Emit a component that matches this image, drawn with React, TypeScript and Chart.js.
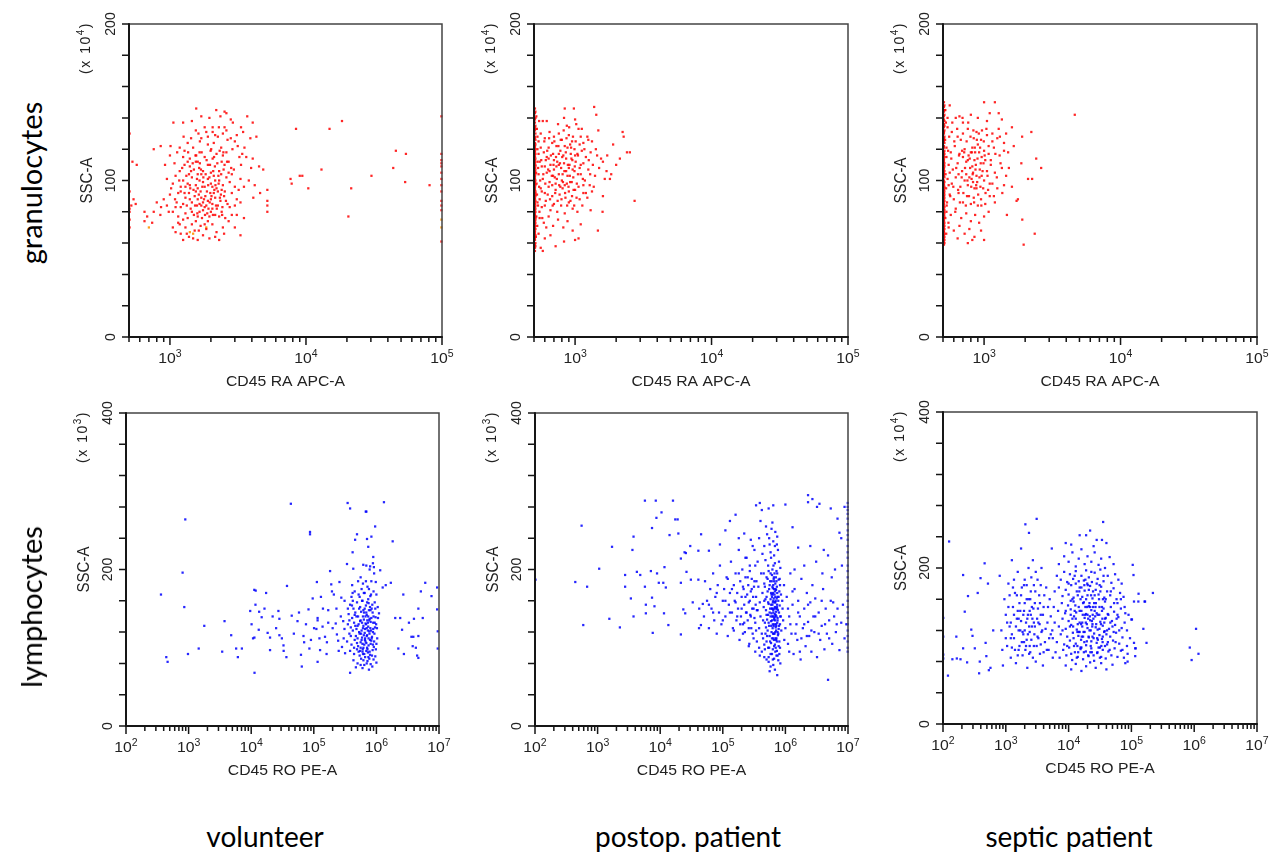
import React, { useEffect, useRef } from 'react';
import { Chart, registerables } from 'chart.js';

Chart.register(...registerables);

type Pt = [number, number];

// ---------- axis / tick definitions ----------
const topXTickExponents = [3, 4, 5];
const bottomXTickExponents = [2, 3, 4, 5, 6, 7];
const topYTickLabels = [0, 100, 200];
const bottomYTickLabels = [0, 200, 400];
const columnLabels = ['volunteer', 'postop. patient', 'septic patient'];
const rowLabels = ['granulocytes', 'lymphocytes'];

// ---------- data (CD45 intensity, SSC-A) ----------
const granVolunteer: Pt[] = [
  [1560,146],[2190,145],[2520,144],[1700,141],[3700,141],[4060,137],[1060,137],[1250,137],[2900,137],[2800,139],
  [1800,134],[2060,134],[2290,134],[2520,134],[3330,134],[4320,128],[1850,131],[2060,131],[2800,127],[1430,127],[1660,125],[1900,128],[2250,128],[3900,127],[2450,130],[1550,132],[2650,126],[3100,129],
  [760,120],[855,122],[1010,122],[1180,121],[1280,119],[1480,121],[1990,119],[2380,121],[2880,120],[3150,122],[3530,121],[1000,116],[1250,115],[1400,114],[1560,116],[1800,115],[2060,114],[2450,116],[3240,115],[3640,115],[4060,114],[1650,118],[2200,117],[1900,123],[2600,118],[1350,124],[2100,124],
  [920,110],[1080,111],[1280,110],[1400,109],[1660,111],[1900,110],[2140,109],[2520,110],[2820,108],[3330,110],[3950,108],[4520,109],[4850,107],[570,110],[1180,106],[1500,107],[1750,106],[2000,105],[2300,106],[2700,105],[1600,112],[2400,112],[1350,112],
  [1100,103],[1250,100],[1350,98],[1450,102],[1550,97],[1650,100],[1700,104],[1800,96],[1900,101],[2000,98],[2100,103],[2200,95],[2300,100],[2450,97],[2600,102],[2750,99],[3000,96],[3300,101],[1200,96],[1050,98],[950,101],[1600,95],[2050,96],[2850,104],[3500,96],[5200,94],[1380,104],[1750,99],[2150,100],
  [900,88],[1000,91],[1120,86],[1200,93],[1300,89],[1380,92],[1450,86],[1520,90],[1600,88],[1680,93],[1750,86],[1820,90],[1900,87],[1980,92],[2050,85],[2150,89],[2250,93],[2350,87],[2500,90],[2650,85],[2850,92],[3100,88],[3300,86],[1250,85],[1550,93],[1700,89],[2000,88],[1400,88],[1650,85],[2400,94],[800,86],
  [760,80],[850,78],[950,84],[1050,80],[1150,77],[1200,83],[1300,79],[1350,76],[1420,82],[1500,78],[1580,84],[1650,80],[1720,76],[1800,83],[1880,79],[1950,77],[2050,82],[2150,78],[2250,84],[2400,80],[2550,76],[2750,83],[3100,78],[3500,76],[5200,80],[1250,75],[1600,77],[2000,80],[1450,80],[1750,81],[1100,83],[2300,77],[1700,84],[860,83],[650,80],[680,77],
  [1050,70],[1150,73],[1200,66],[1300,70],[1380,64],[1450,72],[1520,68],[1600,62],[1680,71],[1750,65],[1850,69],[1950,63],[2050,72],[2200,67],[2300,62],[2450,70],[2700,74],[3000,70],[3300,65],[1250,62],[1550,74],[1900,74],[650,74],[740,73],[1100,67],
  [8450,133],[14900,133],[18400,138],[13000,107],[9000,103],[9400,103],[7700,101],[7850,98],[10400,95],[21500,95],[20500,77],[30300,103],[43800,108],[45800,119],[54300,117],[53600,99],[81000,97],[5200,84],[5200,87],[4200,97],
  [99000,141],[99000,117],[99000,113],[99000,111],[99000,109],[99000,105],[99000,101],[99000,97],[99000,93],[99000,87],[99000,84],[99000,81],[99000,61],
  [505,130],[505,82],[505,80],[505,75],[505,93],[505,70],[520,84],[540,88],[560,85],[530,112],
];
const granVolunteerCore: Pt[] = [
  [1230,108],[1320,103],[1410,95],[1470,111],[1530,84],[1580,101],[1630,91],[1690,107],[1730,96],[1780,88],[1830,104],[1870,93],[1920,82],[1970,110],[2020,90],[2080,106],[2120,94],[2180,84],[2230,111],[2280,98],[2330,89],[2380,104],[2430,83],[2480,107],[2530,93],[2580,87],[2630,112],[1280,92],[1330,84],[1360,118],[1430,106],[1490,94],[1540,116],[1590,79],[1640,108],[1710,118],[1760,102],[1810,78],[1860,113],[1910,97],[1960,86],[2010,120],[2070,78],[2110,115],[2160,97],[2210,82],[2270,103],[2320,119],[2370,91],[2420,78],[2470,118],[1150,92],[1170,100],[1090,88],[1020,95],[980,80],[1130,118],[1260,128],[1620,130],[2150,129],[2700,112],[2950,107],[3200,94],[3400,117],[3800,100],[4100,89],[4600,92],[2600,132],[3000,125],[3450,131],[1450,138],[1950,140],[2350,141],[2600,143],[1700,127],[1180,72],[1330,66],[1480,63],[1630,68],[1800,72],[2150,64],[2500,66],[2850,78],[3000,84],[1400,97],[1600,104],[1850,84],[2100,92],[1300,96],[1550,112],[1950,102],
];
const granVolunteerOrange: Pt[] = [[700,70],[1400,67],[1480,66],[1850,70],[99000,75],[99000,70]];

const granPostop: Pt[] = [
  [508,146],[508,143],[508,139],[508,137],[508,134],[508,132],[508,128],[508,127],[508,124],[508,122],[508,121],[508,118],[508,116],[508,115],[508,112],[508,111],[508,108],[508,106],[508,105],[508,103],[508,101],[508,99],[508,98],[508,95],[508,94],[508,91],[508,89],[508,88],[508,85],[508,83],[508,81],[508,78],[508,77],[508,74],[508,72],[508,70],[508,68],[508,66],[508,63],[508,62],[508,59],[508,57],[508,55],[508,119],[508,113],[508,102],[508,96],[508,86],[508,79],[508,71],[508,67],
  [512,144],[512,140],[512,135],[512,133],[512,130],[512,126],[512,123],[512,120],[512,117],[512,114],[512,110],[512,109],[512,107],[512,104],[512,100],[512,97],[512,93],[512,92],[512,90],[512,87],[512,84],[512,82],[512,80],[512,76],[512,75],[512,73],[512,69],[512,65],[512,64],[512,60],[512,58],
  [545,138],[580,138],[620,138],[750,136],[870,135],[1020,136],[1060,133],[830,140],[1000,139],[840,146],[980,146],[1380,147],[1430,142],
  [560,130],[600,127],[650,131],[700,128],[760,130],[800,126],[900,129],[950,125],[1100,128],[1150,124],[1250,126],[680,124],[540,125],
  [530,120],[590,118],[640,121],[690,117],[730,122],[780,119],[820,116],[880,121],[930,117],[990,120],[1050,116],[1120,119],[1200,115],[1300,118],[1450,116],[1720,116],[2130,114],[2400,118],[2520,118],[2230,131],[2270,128],
  [550,112],[570,109],[610,113],[660,110],[700,107],[740,112],[790,108],[830,111],[860,106],[910,110],[960,107],[1010,112],[1080,108],[1150,111],[1250,107],[1350,110],[1500,108],[1600,112],
  [540,104],[580,101],[620,105],[650,99],[690,103],[720,98],[760,104],[800,100],[840,97],[880,103],[920,99],[970,102],[1030,98],[1100,104],[1180,100],[1280,97],[1400,103],[1650,101],[1800,101],[1840,104],
  [560,95],[600,92],[640,96],[680,90],[720,94],[770,91],[810,95],[850,89],[900,93],[950,90],[1000,94],[1080,88],[1150,92],[1230,89],[1330,93],[1600,90],[2730,87],
  [530,86],[570,83],[610,87],[660,81],[700,85],[740,80],[790,84],[840,79],[900,86],[960,82],[1040,80],[1130,84],[1590,80],[1300,81],
  [550,76],[590,73],[640,77],[690,71],[750,75],[820,70],[880,74],[960,68],[1100,72],[1470,68],
  [540,66],[600,63],[660,65],[720,58],[830,61],[1000,62],[1060,63],[560,57],[580,55],
  [620,115],[700,113],[760,117],[810,104],[860,114],[900,108],[940,114],[990,106],[650,106],[730,109],[780,96],[870,98],[710,102],[840,122],[920,123],[760,110],[680,97],[1000,116],[1050,104],[1150,97],[600,109],[640,114],
];
const granPostopCore: Pt[] = [
  [520,141],[525,133],[530,112],[518,105],[522,98],[526,91],[535,84],[520,77],[528,71],[515,64],[540,117],[545,96],[550,88],[530,128],[536,108],[548,80],[555,100],[560,121],[565,113],[570,93],[575,76],[585,104],[595,125],[600,84],[605,98],[615,70],[625,119],[630,91],[635,107],[645,127],[655,88],[665,116],[675,103],[685,84],[695,110],[705,125],[715,92],[725,115],[735,101],[745,87],[755,122],[765,97],[775,111],[785,126],[795,88],[805,115],[815,99],[825,132],[835,106],[845,92],[855,118],[865,127],[875,84],[885,110],[895,96],[905,134],[915,103],[925,87],[935,121],[945,99],[955,113],[965,128],[975,94],[985,84],[995,109],[1010,125],[1025,89],[1040,117],[1060,96],[1080,123],[1100,110],[1120,133],[1140,101],[1170,120],[1200,92],[1230,128],[1260,113],[1290,104],[1330,125],[1370,96],[1420,120],[1480,132],[1550,114],[1700,106],[1900,123],[2000,110],
];

const granSeptic: Pt[] = [
  [508,150],[508,147],[508,144],[508,141],[508,139],[508,136],[508,134],[508,131],[508,130],[508,127],[508,125],[508,122],[508,121],[508,118],[508,116],[508,114],[508,112],[508,110],[508,108],[508,107],[508,104],[508,103],[508,100],[508,98],[508,97],[508,94],[508,92],[508,90],[508,88],[508,86],[508,84],[508,82],[508,80],[508,78],[508,76],[508,74],[508,72],[508,70],[508,67],[508,65],[508,63],[508,61],[508,59],[508,126],[508,113],[508,105],[508,95],[508,85],[508,75],[508,68],
  [512,148],[512,145],[512,142],[512,138],[512,135],[512,132],[512,128],[512,124],[512,119],[512,117],[512,115],[512,111],[512,109],[512,106],[512,102],[512,99],[512,96],[512,93],[512,91],[512,89],[512,87],[512,83],[512,81],[512,79],[512,77],[512,73],[512,71],[512,69],[512,66],[512,64],[512,62],[512,60],
  [560,148],[1000,150],[1200,150],[1100,143],[620,140],[660,141],[700,137],[800,142],[900,140],[1050,138],[1280,143],[1350,139],[1600,134],[1306,128],[1900,128],[2220,131],
  [540,134],[580,131],[640,128],[700,130],[760,133],[840,127],[880,131],[950,126],[1050,129],[1150,125],[1250,127],[1400,124],
  [530,121],[570,118],[610,122],[660,117],[720,120],[770,116],[820,121],[860,118],[900,123],[960,115],[1000,119],[1080,117],[1180,121],[1300,116],[1500,118],[1875,111],[2410,114],
  [550,110],[590,107],[640,111],[690,106],[740,112],[790,108],[830,105],[870,110],[930,107],[990,111],[1050,106],[1120,110],[1200,105],[1350,108],[1450,103],[2100,101],[2250,101],[2620,108],
  [540,101],[580,98],[620,102],[670,96],[720,100],[760,97],[810,101],[850,95],[890,99],[940,96],[1000,100],[1070,94],[1150,98],[1250,95],[1400,97],
  [560,91],[600,88],[650,92],[700,86],[750,90],[800,85],[840,89],[900,84],[950,88],[1020,85],[1100,90],[1200,86],[1730,87],[1770,88],
  [530,80],[570,78],[620,82],[680,76],[740,79],[800,74],[860,78],[920,73],[1000,77],[1080,80],[1470,78],[1905,75],
  [550,70],[600,68],[660,71],[720,66],[780,69],[850,64],[950,68],[1000,62],[2350,66],[1950,59],[640,63],[760,60],[820,62],
  [4620,142],
  [760,113],[800,118],[850,113],[880,103],[920,118],[780,102],[700,115],[740,104],[820,109],[960,103],[1020,113],[650,104],[690,119],[880,95],[830,99],
];
const granSepticCore: Pt[] = [
  [520,145],[525,137],[518,126],[530,115],[522,104],[527,95],[535,86],[520,76],[528,66],[540,140],[545,119],[550,97],[532,84],[548,73],[555,128],[560,105],[565,90],[575,114],[585,137],[595,96],[605,125],[615,80],[625,108],[635,133],[645,94],[655,116],[665,86],[675,126],[685,102],[695,140],[705,92],[715,118],[725,108],[735,84],[745,125],[755,100],[765,137],[775,90],[785,114],[795,128],[805,96],[815,118],[825,104],[835,132],[845,86],[855,121],[865,107],[875,97],[885,126],[895,114],[905,91],[915,130],[925,102],[935,121],[945,111],[955,84],[965,132],[975,106],[985,95],[995,125],[1010,116],[1025,92],[1040,133],[1060,103],[1080,122],[1100,98],[1120,113],[1150,130],[1180,90],[1210,117],[1240,102],[1280,133],[1320,111],[1360,92],[1400,119],[1450,130],[1520,108],[1600,96],[1650,122],
];

const lymphVolunteer: Pt[] = [
  [4.0e5,165],[4.5e5,172],[5.2e5,168],[5.8e5,175],[6.5e5,170],[7.2e5,178],[8.0e5,166],[9.0e5,172],[1.0e6,168],
  [3.8e5,155],[4.3e5,150],[4.9e5,158],[5.5e5,152],[6.0e5,160],[6.8e5,154],[7.5e5,157],[8.4e5,150],[9.4e5,158],[1.05e6,152],
  [3.6e5,143],[4.1e5,138],[4.6e5,145],[5.1e5,140],[5.7e5,146],[6.3e5,136],[7.0e5,142],[7.8e5,137],[8.7e5,145],[9.7e5,139],[1.1e6,144],
  [3.5e5,130],[3.9e5,126],[4.4e5,132],[5.0e5,128],[5.5e5,134],[6.1e5,125],[6.7e5,131],[7.4e5,127],[8.1e5,133],[8.9e5,124],[9.9e5,130],
  [3.7e5,118],[4.2e5,122],[4.7e5,115],[5.3e5,120],[5.9e5,113],[6.5e5,119],[7.1e5,116],[7.7e5,121],[8.5e5,114],[9.3e5,118],[1.03e6,112],
  [3.4e5,108],[4.0e5,104],[4.5e5,110],[5.1e5,102],[5.6e5,107],[6.2e5,100],[6.9e5,106],[7.5e5,103],[8.3e5,109],[9.1e5,101],[1.0e6,105],
  [3.8e5,96],[4.4e5,92],[4.9e5,98],[5.4e5,90],[6.0e5,95],[6.6e5,88],[7.3e5,94],[7.9e5,91],[8.7e5,97],[9.6e5,89],
  [4.3e5,84],[5.0e5,80],[5.7e5,86],[6.4e5,78],[7.2e5,83],[8.1e5,79],[9.0e5,85],[1.0e6,81],
  [3.8e5,68],[6.0e5,74],[7.6e5,72],[4.7e5,75],[8.6e5,76],
  [5.8e5,110],[6.6e5,112],[7.0e5,125],[6.2e5,148],[7.6e5,148],[5.4e5,118],[6.9e5,96],[7.9e5,110],[6.4e5,104],[7.3e5,132],[8.2e5,122],[5.9e5,132],[6.1e5,92],[7.1e5,100],[6.7e5,140],[5.6e5,100],[7.7e5,86],[6.3e5,116],[8.8e5,104],[9.5e5,126],[5.2e5,95],[4.8e5,124],[7.4e5,162],[6.1e5,182],[8.3e5,185],[5.6e5,190],[7.8e5,200],[9.2e5,195],[6.9e5,205],[8.8e5,208],
  [362,168],[440,88],[462,82],[885,264],[802,196],[853,152],[977,92],[1780,128],[1450,99],[3750,134],[3440,95],[4790,116],[5750,99],[6120,88],[7100,99],[9640,147],[10140,130],[10700,112],[11250,113],[11200,174],[11800,173],[11700,155],[11300,68],[13400,146],[14700,139],[13200,123],[17300,170],[16300,150],[18300,119],[20000,113],[20000,97],[27200,147],[28200,137],[28200,116],[30900,112],[32800,103],[36500,88],[37300,179],[43000,284],[44400,141],[54900,134],[62400,91],[64300,76],[68400,115],[70100,107],[82300,149],[87000,248],[87000,245],[85000,99],[96000,163],
  [1.01e5,125],[1.1e5,124],[1.12e5,184],[1.15e5,138],[1.15e5,135],[1.23e5,112],[1.26e5,97],[1.15e5,82],[1.38e5,127],[1.51e5,114],[1.62e5,107],[1.7e5,148],[1.82e5,198],[1.9e5,181],[1.95e5,172],[2.09e5,168],[2.24e5,131],[2.34e5,117],[2.45e5,109],[2.57e5,184],[2.75e5,164],[2.82e5,101],[2.95e5,134],[3.09e5,124],[3.16e5,93],[3.39e5,207],[3.47e5,285],[3.8e5,278],[4.07e5,154],[4.17e5,170],[4.17e5,222],[4.27e5,201],[4.57e5,238],[4.9e5,245],[6.17e5,206],[6.76e5,274],[6.92e5,274],[7.08e5,239],[7.41e5,229],[7.94e5,204],[8.32e5,242],[8.91e5,216],[9.12e5,203],[9.55e5,255],[9.77e5,184],
  [1.15e6,199],[1.26e6,177],[1.32e6,286],[1.41e6,180],[1.7e6,183],[1.82e6,236],[2.0e6,138],[2.24e6,99],[2.4e6,138],[2.57e6,123],[2.69e6,168],[2.75e6,92],[3.31e6,132],[3.63e6,114],[3.8e6,102],[3.89e6,114],[3.98e6,137],[4.27e6,100],[4.47e6,90],[4.68e6,150],[4.68e6,115],[4.68e6,87],[5.13e6,172],[5.5e6,138],[6.03e6,183],[7.59e6,166],[9.33e6,177],[9.33e6,149],[9.55e6,121],[9.55e6,99],
];
const lymphVolunteerCore: Pt[] = [
  [3.5e5,150],[3.9e5,115],[4.1e5,180],[4.4e5,100],[4.6e5,128],[4.8e5,140],[5.0e5,112],[5.1e5,185],[5.3e5,150],[5.5e5,96],[5.6e5,135],[5.8e5,122],[5.9e5,160],[6.0e5,105],[6.1e5,140],[6.2e5,128],[6.3e5,170],[6.4e5,92],[6.5e5,150],[6.6e5,124],[6.7e5,108],[6.8e5,185],[6.9e5,145],[7.0e5,115],[7.1e5,158],[7.2e5,98],[7.3e5,122],[7.4e5,140],[7.5e5,112],[7.6e5,175],[7.7e5,135],[7.8e5,95],[7.9e5,152],[8.0e5,125],[8.1e5,105],[8.2e5,168],[8.3e5,138],[8.5e5,90],[8.6e5,155],[8.8e5,120],[9.0e5,140],[9.2e5,108],[9.4e5,132],[9.6e5,150],[9.8e5,98],[1.02e6,125],[1.06e6,138],[3.7e5,135],[4.2e5,160],[4.5e5,142],[4.9e5,106],[5.2e5,130],[5.4e5,165],[5.7e5,118],[6.05e5,98],[6.35e5,145],[6.55e5,110],[6.85e5,130],[7.15e5,135],[7.45e5,88],[7.75e5,118],[8.05e5,148],[8.4e5,112],[8.9e5,132],[6.2e5,84],[7.0e5,80],[5.6e5,78],[3.1e5,160],[2.7e5,140],[2.3e5,150],[2.0e5,125],[1.7e5,132],[1.4e5,150],[2.5e5,96],[3.0e5,112],
  [2.2e4,140],[2.5e4,125],[3.3e4,96],[4.8e4,118],[5.8e4,145],[7.5e4,130],[9e4,110],[1.3e5,165],[1.6e5,92],
];

const lymphPostop: Pt[] = [
  [102,187],[440,184],[555,256],[590,129],[680,178],[1060,201],[1540,137],[1700,229],[2270,126],[2750,193],[2750,178],[3400,163],[3600,225],[3750,242],[3750,140],[4240,197],[4800,193],[5700,288],[5700,178],[5900,155],[5900,144],[7100,198],[7400,253],[7400,164],[7600,119],[8100,153],[8500,288],[8700,266],[8900,195],[9500,183],[10500,273],[11200,183],[11500,144],[11700,203],[12300,177],[13500,129],[14100,244],[16000,288],[17400,264],[19000,264],[19500,246],[21400,214],[21400,183],[21400,117],[23400,149],[24500,222],[25100,144],[25700,221],[26300,197],[30200,230],[30900,187],[33100,158],[40700,224],[40700,187],[41700,125],[44700,129],[47900,156],
  [4.2e4,150],[1.3e5,170],[5e4,140],[2.2e5,155],[5.2e4,185],[9e4,205],[5.6e4,160],[2.85e5,125],[6e4,125],[1.6e5,195],[6.3e4,175],[3.1e5,112],[6.6e4,150],[1.05e5,175],[7e4,195],[2.45e5,168],[7.3e4,135],[1.85e5,110],[7.6e4,165],[3.3e5,205],[8e4,118],[1.5e5,180],[8.3e4,180],[2.6e5,158],[8.7e4,145],[1.2e5,115],[9.5e4,130],[2e5,165],[1e5,160],[3.45e5,185],[1.1e5,140],[1.7e5,170],[1.15e5,190],[2.75e5,142],[1.25e5,155],[3.05e5,165],[1.35e5,210],[2.1e5,130],[1.4e5,145],[2.35e5,145],[1.45e5,125],[2.9e5,188],[1.55e5,160],[3.4e5,122],[1.65e5,135],[2.5e5,135],[1.75e5,150],[2.3e5,190],[1.8e5,225],[3.2e5,138],[1.9e5,185],[2.65e5,105],[1.95e5,140],[2.05e5,200],[3e5,230],[2.15e5,175],[2.7e5,198],[2.25e5,120],[3.35e5,155],[2.4e5,215],[2.55e5,180],[2.8e5,172],[3.15e5,178],[2.95e5,150],[3.5e5,148],
  [4.6e5,230],[5.1e5,245],[5.5e5,240],[6e5,252],[6.4e5,236],[6.9e5,248],[7.3e5,232],[5.8e5,222],[6.6e5,218],[7.6e5,225],[4.8e5,212],[5.3e5,205],[5.9e5,215],[6.2e5,200],[6.8e5,208],[7.2e5,198],[7.9e5,210],[8.3e5,202],[4.5e5,195],[5e5,190],[5.4e5,198],[5.7e5,185],[6.1e5,193],[6.5e5,188],[6.9e5,182],[7.4e5,195],[7.8e5,187],[8.2e5,180],[4.7e5,178],[5.2e5,172],[5.6e5,180],[5.9e5,170],[6.3e5,176],[6.7e5,168],[7.1e5,174],[7.5e5,165],[8e5,172],[8.5e5,168],[4.6e5,160],[5e5,165],[5.4e5,156],[5.8e5,162],[6.2e5,155],[6.5e5,163],[6.9e5,158],[7.3e5,152],[7.7e5,160],[8.1e5,154],[4.9e5,148],[5.3e5,142],[5.7e5,150],[6.0e5,144],[6.4e5,148],[6.8e5,140],[7.1e5,146],[7.5e5,138],[7.9e5,145],[8.4e5,140],[4.7e5,132],[5.1e5,136],[5.5e5,128],[5.9e5,134],[6.3e5,130],[6.6e5,136],[7e5,126],[7.4e5,132],[7.8e5,124],[8.2e5,130],[4.8e5,118],[5.2e5,122],[5.6e5,115],[6e5,120],[6.4e5,112],[6.7e5,118],[7.1e5,110],[7.6e5,116],[8e5,108],[4.6e5,104],[5e5,108],[5.5e5,100],[5.9e5,106],[6.3e5,98],[6.8e5,104],[7.3e5,96],[7.8e5,102],[5.4e5,88],[6.1e5,92],[6.6e5,86],[7.2e5,90],[8.3e5,80],[6.4e5,78],[7.7e5,84],
  [6.1e5,165],[6.3e5,158],[6.6e5,150],[6.8e5,172],[7e5,160],[6.2e5,140],[6.5e5,128],[7.2e5,140],[6.9e5,120],[6.4e5,180],[7.3e5,178],[6.7e5,195],[6.05e5,185],[7.1e5,130],[6.55e5,110],[6.25e5,125],[7.4e5,150],[6.85e5,135],[6.15e5,150],[7.05e5,190],[6.45e5,205],[6.75e5,143],[7.25e5,163],[6.35e5,170],[6.95e5,112],[5.95e5,128],[7.5e5,120],[5.8e5,140],[6.6e5,175],[7.0e5,100],
  [9e5,150],[9.5e5,180],[1e6,125],[1.05e6,165],[1.1e6,105],[1.15e6,140],[1.2e6,195],[1.25e6,118],[1.3e6,155],[1.35e6,92],[1.4e6,175],[1.5e6,130],[1.55e6,110],[1.6e6,160],[1.7e6,140],[1.75e6,85],[1.8e6,188],[1.9e6,125],[2e6,150],[2.1e6,102],[2.2e6,170],[2.3e6,133],[2.4e6,115],[2.5e6,158],[2.6e6,95],[2.7e6,180],[2.8e6,140],[2.9e6,120],[3e6,163],[3.2e6,88],[3.4e6,145],[3.6e6,110],[3.8e6,128],[4e6,175],[4.2e6,98],[4.4e6,150],[4.6e6,118],[4.8e6,59],[5e6,135],[5.3e6,160],[5.6e6,105],[6e6,140],[6.4e6,120],[6.8e6,150],[7.3e6,97],[7.8e6,132],[8.3e6,155],[8.8e6,112],
  [1.3e6,254],[1e6,283],[2.3e6,295],[2.7e6,290],[3.2e6,280],[3.5e6,284],[2.3e6,286],[5.3e6,278],[6.8e6,265],[4.1e6,225],[4.8e6,218],[7.3e6,247],[8e6,205],[1.6e6,228],[2e6,205],[2.5e6,230],[3.1e6,210],[3.9e6,195],[5.5e6,190],[6.2e6,200],[7.8e6,240],[8.8e6,280],
  [1.1e5,250],[1.3e5,262],[1.6e5,270],[2.2e5,246],[3.4e5,282],[3.9e5,285],[4.2e5,276],[5.4e5,278],[6.4e5,282],[4e5,262],[1.8e5,240],[2.8e5,238],[9e4,232],[6e4,224],[4.5e4,245],
  [4.2e5,95],[4.6e5,88],[5.4e5,82],[5.8e5,76],[3.8e5,100],[5.6e5,70],[6.8e5,72],[7.4e5,65],[8e5,92],
  [9.9e6,285],[9.9e6,280],[9.9e6,276],[9.9e6,271],[9.9e6,265],[9.9e6,258],[9.9e6,250],[9.9e6,244],[9.9e6,238],[9.9e6,230],[9.9e6,222],[9.9e6,215],[9.9e6,205],[9.9e6,198],[9.9e6,190],[9.9e6,183],[9.9e6,176],[9.9e6,168],[9.9e6,160],[9.9e6,152],[9.9e6,145],[9.9e6,138],[9.9e6,130],[9.9e6,122],[9.9e6,115],[9.9e6,108],[9.9e6,100],[9.9e6,95],
];
const lymphPostopCore: Pt[] = [
  [2e5,150],[2.1e5,178],[2.2e5,132],[2.3e5,165],[2.4e5,145],[2.5e5,190],[2.6e5,125],[2.7e5,160],[2.8e5,140],[2.9e5,175],[3e5,118],[3.1e5,150],[3.2e5,185],[3.3e5,132],[3.4e5,165],[3.5e5,108],[3.6e5,148],[3.7e5,178],[3.8e5,125],[3.9e5,158],[4e5,140],[4.1e5,195],[4.2e5,118],[4.3e5,170],[4.4e5,135],[4.5e5,152],[4.6e5,182],[4.7e5,98],[4.8e5,162],[4.9e5,126],[5e5,142],[5.1e5,115],[5.2e5,188],[5.3e5,158],[5.4e5,132],[5.5e5,175],[5.6e5,145],[5.7e5,108],[5.8e5,195],[5.9e5,155],[6e5,168],[6.1e5,112],[6.2e5,178],[6.3e5,140],[6.4e5,160],[6.5e5,118],[6.6e5,185],[6.7e5,130],[6.8e5,152],[6.9e5,165],[7e5,142],[7.1e5,122],[7.2e5,185],[7.3e5,108],[7.4e5,170],[7.5e5,135],[7.6e5,148],[7.7e5,118],[7.8e5,165],[7.9e5,128],[8.1e5,188],[8.3e5,140],[8.6e5,122],[8.9e5,160],[9.2e5,135],[9.6e5,110],
  [2.3e5,215],[3.2e5,225],[3.8e5,240],[4.3e5,220],[4.9e5,255],[5.6e5,232],[6.2e5,260],[6.8e5,230],[7.4e5,242],[2.7e5,205],[3.6e5,210],
  [2.1e5,118],[2.6e5,102],[3.3e5,95],[3.9e5,90],[4.4e5,112],[5e5,85],[5.8e5,92],[6.3e5,85],[6.9e5,95],[7.5e5,90],[8.2e5,100],[5.3e5,100],[6.6e5,102],[7.2e5,112],
  [6.15e5,135],[6.45e5,145],[6.75e5,158],[7.05e5,150],[6.25e5,168],[6.95e5,175],[6.35e5,118],[7.15e5,128],[6.05e5,150],[6.55e5,190],[7.35e5,155],[6.65e5,138],
  [1e5,135],[1.1e5,160],[1.2e5,188],[1.3e5,145],[1.4e5,175],[1.5e5,122],[1.6e5,158],[1.7e5,140],[1.8e5,195],[1.9e5,130],[7e4,145],[8e4,170],[6e4,155],
  [1.1e6,150],[1.2e6,130],[1.3e6,172],[1.45e6,118],[1.6e6,145],[1.8e6,112],[2e6,130],[2.3e6,155],[2.6e6,122],[3e6,140],[3.4e6,118],[3.8e6,160],[4.3e6,130],[5e6,112],[5.8e6,158],[6.6e6,130],[1.15e6,95],[1.4e6,200],[1.7e6,95],[2.2e6,115],[9.4e6,130],
];

const lymphSeptic: Pt[] = [
  [125,234],[120,62],[101,136],[101,112],[101,89],[101,84],[141,83],[163,112],[166,84],[190,83],[209,191],[209,97],[222,144],[242,79],[250,164],[282,121],[295,113],[321,97],[357,168],[376,65],[385,80],[396,187],[460,206],[477,104],[490,87],[520,180],[537,69],[570,72],[630,120],
  [800,190],[850,120],[880,95],[900,75],[950,160],[1000,140],[1050,100],[1100,180],[1150,125],[1200,85],[1250,210],[1300,150],[1350,110],[1400,168],[1450,78],[1500,135],[1550,195],[1600,95],[1650,155],[1700,120],[1750,225],[1800,175],[1850,88],[1900,140],[1950,105],[2000,185],[2050,256],[2100,130],[2150,160],[2200,72],[2250,115],[2300,200],[2340,245],[2400,145],[2450,92],[2500,170],[2600,125],[2700,210],[2800,100],[2900,155],[3000,80],[3100,263],[3150,135],[3200,185],[3300,110],[3400,165],[3500,90],[3600,140],[3700,200],[3800,120],[3900,75],[4000,150],[4200,105],[4400,175],[4600,130],[4800,95],[5000,160],[5200,115],[5400,225],[5600,85],
  [1100,150],[1300,175],[1500,165],[1700,145],[1900,115],[2100,100],[2300,160],[2500,140],[2700,85],[2900,125],[1200,130],[1400,95],[1600,120],[1800,105],[2000,155],[2200,135],[2400,118],[2600,150],[1000,110],[1250,98],[1350,140],[1550,88],[1750,132],[1950,178],[2150,108],[2350,90],[2550,188],[3250,148],[3450,128],[2800,178],[3000,195],[3600,102],
  [15000,242],[19000,242],[28000,236],[34000,236],[35500,259],[11000,230],[22000,248],[9000,232],[25000,228],[40000,232],
  [7000,205],[8500,215],[10000,208],[11500,220],[13000,202],[14500,212],[16000,224],[18000,205],[20000,215],[23000,208],[26000,220],[30000,204],[33000,212],[38000,200],[45000,214],[52000,205],[1.05e5,204],[1.08e5,191],
  [6500,190],[7500,185],[8500,195],[9500,182],[10500,192],[11800,186],[13000,196],[14500,183],[16000,190],[17500,184],[19000,197],[21000,188],[23500,182],[26000,194],[29000,186],[32000,198],[36000,183],[42000,190],[48000,181],[55000,192],[62000,185],[70000,180],
  [6000,170],[7000,175],[8000,164],[9000,172],[10000,166],[11000,178],[12000,162],[13500,170],[15000,175],[16500,163],[18000,171],[20000,165],[22000,177],[24000,161],[27000,172],[30000,166],[33000,176],[37000,162],[41000,170],[46000,165],[52000,174],[58000,160],[66000,168],[75000,163],[1.3e5,167],[1.1e5,157],[1.65e5,157],[2.2e5,168],
  [5800,150],[6800,145],[7800,155],[8800,142],[9800,152],[10800,147],[12000,157],[13200,143],[14500,150],[16000,145],[17500,156],[19000,141],[21000,151],[23000,146],[25500,155],[28000,142],[31000,150],[34000,145],[38000,157],[42000,141],[47000,150],[53000,144],[60000,155],[68000,148],[80000,142],[1.0e5,134],[90000,140],
  [6000,130],[7000,125],[8000,135],[9000,122],[10000,132],[11000,127],[12200,138],[13500,121],[15000,130],[16500,125],[18000,136],[20000,123],[22000,133],[24000,128],[26500,138],[29000,121],[32000,131],[35000,126],[39000,136],[44000,122],[49000,132],[55000,127],[62000,137],[70000,123],[78000,130],[1.55e5,122],
  [5600,110],[6500,105],[7500,115],[8500,102],[9500,112],[10500,107],[11700,117],[13000,103],[14300,113],[15800,108],[17300,118],[19000,101],[21000,111],[23000,106],[25500,116],[28000,104],[31000,114],[34000,109],[37500,119],[41000,102],[46000,112],[51000,107],[57000,117],[64000,103],[72000,111],[85000,100],[1.1e5,104],[1.15e5,97],
  [6200,92],[7200,85],[8200,95],[9200,88],[10200,98],[11400,82],[12600,92],[14000,86],[15500,96],[17000,83],[18800,93],[20800,87],[23000,97],[25500,81],[28500,91],[31500,85],[35000,95],[39000,84],[43000,93],[48000,88],[54000,97],[60000,86],[68000,94],[76000,85],[87000,90],
  [9000,75],[11000,70],[13000,77],[16000,68],[19000,74],[22000,79],[27000,72],[33000,78],[40000,70],[50000,76],[80000,78],
  [12500,145],[14000,128],[15500,160],[17000,112],[18500,150],[20500,135],[22500,120],[24500,170],[13000,180],[16000,98],[19500,128],[21500,155],[26000,145],[28500,110],[30500,160],[34500,135],[11500,135],[15000,118],[17800,178],[23500,92],[27500,128],[31500,98],[36000,148],[40000,115],[10800,158],[13800,100],[19800,180],[25000,110],
  [87000,80],[1.02e5,134],[1.15e5,87],[1.17e5,97],[1.29e5,157],[1.62e5,157],[1.74e5,104],[1.07e6,122],[8.5e5,98],[9.1e5,82],[1.17e6,90],
];
const lymphSepticCore: Pt[] = [
  [8000,120],[9000,145],[9500,100],[10000,180],[10500,125],[11000,90],[11500,160],[12000,110],[12500,190],[13000,135],[13500,85],[14000,165],[14500,118],[15000,145],[15500,98],[16000,175],[16500,130],[17000,155],[17500,92],[18000,118],[18500,185],[19000,160],[19500,106],[20000,140],[20500,88],[21000,172],[21500,120],[22000,150],[22500,100],[23000,195],[23500,132],[24000,112],[24500,150],[25000,88],[26000,165],[27000,124],[28000,180],[29000,140],[30000,98],[31000,122],[32000,170],[33000,86],[34000,150],[35000,112],[36000,190],[37000,130],[38000,100],[39000,160],[41000,120],[43000,140],[45000,95],[47000,170],[50000,125],[53000,155],[56000,105],[60000,140],[64000,120],[68000,160],[72000,95],[78000,150],[85000,120],[95000,110],
  [10800,140],[11800,125],[12800,152],[13800,118],[14800,170],[15800,128],[16800,140],[17800,105],[18800,130],[19800,150],[20800,112],[21800,138],[22800,165],[23800,125],[24800,135],[26800,150],[28800,92],[30800,140],[32800,128],[34800,105],[36800,118],[12200,100],[14200,92],[16200,112],[18200,140],[20200,178],[22200,92],[24200,140],[27200,155],[29200,108],[31200,178],[33200,100],[35200,160],[38200,135],[42200,105],[46200,130],[52200,118],[58200,135],
  [1050,130],[1150,165],[1250,115],[1350,185],[1450,125],[1550,145],[1650,100],[1750,165],[1850,118],[1950,145],[2050,95],[2150,178],[2250,140],[2350,125],[2450,160],[2550,108],[2650,135],[2750,148],[2850,115],[2950,170],[3100,100],[3300,130],[3500,155],[3700,118],[3900,140],[4100,165],[4300,122],[4500,95],[4700,150],[4900,110],[5200,138],[5500,120],[1200,110],[1600,135],[2000,120],[2400,100],[2800,130],[3200,112],[3600,178],[4000,92],
];

// ---------- drawing helpers ----------
const FONT = '"Liberation Sans", Arial, sans-serif';
const TEXT_COLOR = '#222';
const SX = 1.05;

type Part = { t: string; sup?: boolean };

function drawRich(ctx: CanvasRenderingContext2D, parts: Part[], cx: number, cy: number, size: number, rot: boolean, spacing = 0) {
  ctx.save();
  ctx.translate(cx, cy);
  ctx.scale(SX, 1);
  if (rot) ctx.rotate(-Math.PI / 2);
  ctx.fillStyle = TEXT_COLOR;
  ctx.textAlign = 'left';
  ctx.textBaseline = 'alphabetic';
  (ctx as any).letterSpacing = spacing + 'px';
  const fontFor = (p: Part) => `${p.sup ? Math.round(size * 0.68) : size}px ${FONT}`;
  const widths = parts.map((p) => {
    ctx.font = fontFor(p);
    return ctx.measureText(p.t).width;
  });
  const total = widths.reduce((a, b) => a + b, 0);
  let x = -total / 2;
  const base = size * 0.36;
  parts.forEach((p, i) => {
    ctx.font = fontFor(p);
    ctx.fillText(p.t, x, p.sup ? base - size * 0.45 : base);
    x += widths[i];
  });
  ctx.restore();
}

interface PanelSpec {
  left: number; top: number; w: number; h: number;
  xMin: number; xMax: number; xExps: number[];
  yMax: number; yMinor: number; yLabels: number[];
  scaleExp: string; xTitle: string;
  sets: { data: Pt[]; color: string }[];
}

const PAD = { left: 80, top: 24, right: 20, bottom: 60 };

function axisPlugin(spec: PanelSpec) {
  return {
    id: 'facsAxes',
    afterDatasetsDraw(chart: any) {
      const ctx: CanvasRenderingContext2D = chart.ctx;
      const { left, right, top, bottom } = chart.chartArea;
      const xs = chart.scales.x;
      const ys = chart.scales.y;
      ctx.save();
      ctx.strokeStyle = '#444';
      ctx.lineWidth = 1.5;
      ctx.beginPath();
      ctx.moveTo(left, top);
      ctx.lineTo(right, top);
      ctx.lineTo(right, bottom);
      ctx.stroke();
      ctx.strokeStyle = '#161616';
      ctx.lineWidth = 2;
      ctx.beginPath();
      ctx.moveTo(left, top - 0.75);
      ctx.lineTo(left, bottom);
      ctx.lineTo(right + 0.75, bottom);
      ctx.stroke();
      ctx.lineWidth = 1.5;
      const d0 = Math.floor(Math.log10(spec.xMin));
      const d1 = Math.ceil(Math.log10(spec.xMax));
      ctx.beginPath();
      for (let d = d0; d <= d1; d++) {
        for (let k = 1; k <= 9; k++) {
          const v = k * Math.pow(10, d);
          if (v < spec.xMin * 0.999 || v > spec.xMax * 1.001) continue;
          const px = xs.getPixelForValue(v);
          const len = k === 1 ? 8 : 5;
          ctx.moveTo(px, bottom);
          ctx.lineTo(px, bottom + len);
        }
      }
      for (let v = 0; v <= spec.yMax + 0.001; v += spec.yMinor) {
        const py = ys.getPixelForValue(v);
        ctx.moveTo(left, py);
        ctx.lineTo(left - 7, py);
      }
      ctx.stroke();
      spec.xExps.forEach((e) => {
        const px = xs.getPixelForValue(Math.pow(10, e));
        drawRich(ctx, [{ t: '10' }, { t: String(e), sup: true }], px, bottom + 21, 15, false);
      });
      spec.yLabels.forEach((v) => {
        const py = ys.getPixelForValue(v);
        drawRich(ctx, [{ t: String(v) }], left - 19, py, 14, true);
      });
      drawRich(ctx, [{ t: spec.xTitle }], (left + right) / 2, bottom + 44, 15, false);
      drawRich(ctx, [{ t: 'SSC-A' }], left - 43, (top + bottom) / 2, 15, true);
      drawRich(ctx, [{ t: '(x 10' }, { t: spec.scaleExp, sup: true }, { t: ')' }], left - 44, top + 24, 14, true, 1.5);
      ctx.restore();
    },
  };
}

function Panel({ spec }: { spec: PanelSpec }) {
  const ref = useRef<HTMLCanvasElement>(null);
  const W = spec.w + PAD.left + PAD.right;
  const H = spec.h + PAD.top + PAD.bottom;
  useEffect(() => {
    const chart = new Chart(ref.current as HTMLCanvasElement, {
      type: 'scatter',
      data: {
        datasets: spec.sets.map((s) => ({
          data: s.data.map(([x, y]) => ({ x, y })),
          backgroundColor: s.color,
          borderWidth: 0,
          pointRadius: 1.6,
          pointStyle: 'rect',
          clip: 4,
        })) as any,
      },
      options: {
        animation: false,
        responsive: false,
        maintainAspectRatio: false,
        events: [],
        layout: { padding: PAD },
        plugins: { legend: { display: false }, tooltip: { enabled: false } },
        scales: {
          x: { type: 'logarithmic', min: spec.xMin, max: spec.xMax, display: false },
          y: { type: 'linear', min: 0, max: spec.yMax, display: false },
        },
      },
      plugins: [axisPlugin(spec)],
    });
    return () => chart.destroy();
  }, []);
  return (
    <canvas
      ref={ref}
      width={W}
      height={H}
      style={{ position: 'absolute', left: spec.left - PAD.left, top: spec.top - PAD.top, width: W, height: H }}
    />
  );
}

const RED = 'rgba(255,0,0,0.85)';
const BLUE = 'rgba(0,0,255,0.85)';
const ORANGE = 'rgba(255,150,0,0.9)';

const panels: PanelSpec[] = [
  { left: 129, top: 24, w: 313, h: 313, xMin: 500, xMax: 1e5, xExps: topXTickExponents, yMax: 200, yMinor: 20, yLabels: topYTickLabels, scaleExp: '4', xTitle: 'CD45 RA APC-A', sets: [{ data: granVolunteer, color: RED }, { data: granVolunteerCore, color: RED }, { data: granVolunteerOrange, color: ORANGE }] },
  { left: 534, top: 24, w: 314, h: 313, xMin: 500, xMax: 1e5, xExps: topXTickExponents, yMax: 200, yMinor: 20, yLabels: topYTickLabels, scaleExp: '4', xTitle: 'CD45 RA APC-A', sets: [{ data: granPostop, color: RED }, { data: granPostopCore, color: RED }] },
  { left: 943, top: 24, w: 314, h: 313, xMin: 500, xMax: 1e5, xExps: topXTickExponents, yMax: 200, yMinor: 20, yLabels: topYTickLabels, scaleExp: '4', xTitle: 'CD45 RA APC-A', sets: [{ data: granSeptic, color: RED }, { data: granSepticCore, color: RED }] },
  { left: 126, top: 413, w: 313, h: 313, xMin: 100, xMax: 1e7, xExps: bottomXTickExponents, yMax: 400, yMinor: 40, yLabels: bottomYTickLabels, scaleExp: '3', xTitle: 'CD45 RO PE-A', sets: [{ data: lymphVolunteer, color: BLUE }, { data: lymphVolunteerCore, color: BLUE }] },
  { left: 535, top: 413, w: 313, h: 313, xMin: 100, xMax: 1e7, xExps: bottomXTickExponents, yMax: 400, yMinor: 40, yLabels: bottomYTickLabels, scaleExp: '3', xTitle: 'CD45 RO PE-A', sets: [{ data: lymphPostop, color: BLUE }, { data: lymphPostopCore, color: BLUE }] },
  { left: 943, top: 412, w: 314, h: 312, xMin: 100, xMax: 1e7, xExps: bottomXTickExponents, yMax: 400, yMinor: 40, yLabels: bottomYTickLabels, scaleExp: '4', xTitle: 'CD45 RO PE-A', sets: [{ data: lymphSeptic, color: BLUE }, { data: lymphSepticCore, color: BLUE }] },
];

const labelStyle: React.CSSProperties = {
  position: 'absolute',
  fontFamily: 'Lato, "Open Sans", sans-serif',
  fontSize: 28,
  lineHeight: '28px',
  color: '#000',
  whiteSpace: 'nowrap',
};

export default function App() {
  const colCenters = [265, 688, 1069];
  const rowCenters = [183, 607];
  return (
    <div style={{ position: 'absolute', left: 0, top: 0, width: 1279, height: 852, background: '#fff', overflow: 'hidden' }}>
      {panels.map((p, i) => (
        <Panel key={i} spec={p} />
      ))}
      {columnLabels.map((t, i) => (
        <div key={'c' + i} style={{ ...labelStyle, left: colCenters[i], top: 836, transform: 'translate(-50%, -50%)' }}>{t}</div>
      ))}
      {rowLabels.map((t, i) => (
        <div key={'r' + i} style={{ ...labelStyle, fontSize: 29, left: 31, top: rowCenters[i], transform: 'translate(-50%, -50%) rotate(-90deg)' }}>{t}</div>
      ))}
    </div>
  );
}
